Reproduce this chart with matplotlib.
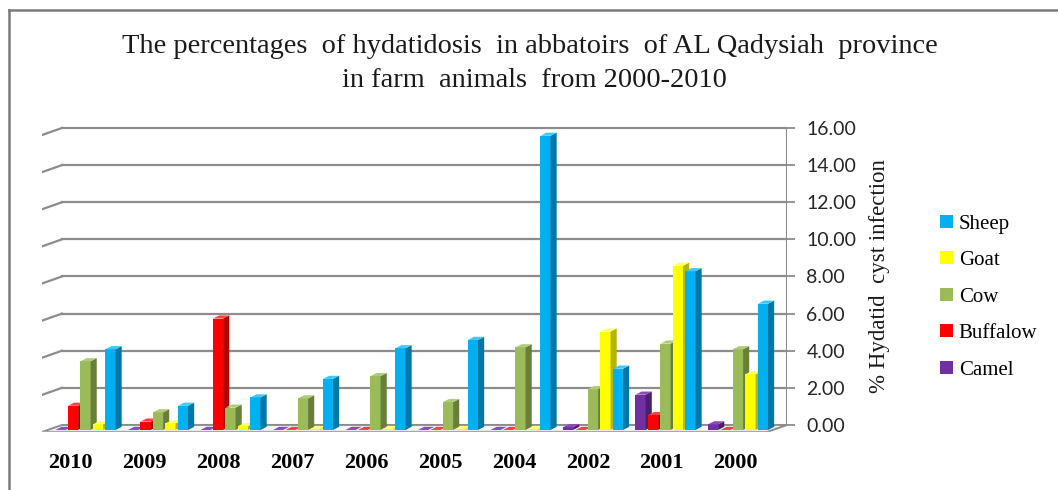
import matplotlib
matplotlib.use("Agg")
import matplotlib.pyplot as plt
from matplotlib.patches import Polygon, Patch
from matplotlib.lines import Line2D

years = ["2010", "2009", "2008", "2007", "2006", "2005", "2004", "2002", "2001", "2000"]
series_names = ["Camel", "Buffalow", "Cow", "Goat", "Sheep"]
camel = [0.0, 0.0, 0.0, 0.0, 0.0, 0.0, 0.0, 0.15, 1.9, 0.3]
buffalow = [1.3, 0.45, 6.0, 0.0, 0.0, 0.0, 0.0, 0.0, 0.8, 0.0]
cow = [3.7, 0.95, 1.2, 1.7, 2.9, 1.5, 4.45, 2.2, 4.65, 4.35]
goat = [0.3, 0.35, 0.2, 0.05, 0.05, 0.05, 0.05, 5.3, 8.85, 3.0]
sheep = [4.35, 1.3, 1.75, 2.75, 4.4, 4.85, 15.85, 3.3, 8.55, 6.8]
yticks = [0, 2, 4, 6, 8, 10, 12, 14, 16]

values = [camel, buffalow, cow, goat, sheep]
front_colors = ["#7030A0", "#FF0000", "#9BBB59", "#FFFF00", "#00B0F0"]
side_colors = ["#4A1F6C", "#B00000", "#687F3A", "#B5B500", "#0077A6"]
top_colors = ["#8A4CB8", "#FF4040", "#B0CC7A", "#FFFF70", "#40C8F8"]

SERIF = "Liberation Serif"

fig = plt.figure(figsize=(10.58, 4.9), dpi=100)
ax = fig.add_axes([42 / 1058, 1 - 432 / 490, (787 - 42) / 1058, (432 - 125) / 490])
DX, DY = 0.276, 0.38          # floor depth offsets (data units)
xl, xr = -0.5, len(years) - 0.5
ax.set_xlim(xl, xr + DX)
ax.set_ylim(-DY, 16.16)
for s in ax.spines.values():
    s.set_visible(False)

grid_c = "#8c8c8c"
# floor
floor = Polygon([(xl, -DY), (xr, -DY), (xr + DX, 0), (xl + DX, 0)], closed=True,
                facecolor="#f4f4f4", edgecolor=grid_c, lw=1.4, zorder=1)
ax.add_patch(floor)
ax.plot([xl, xr], [-DY, -DY], color="#a8a8a8", lw=2.4, zorder=1.5)
# back wall gridlines + side wall diagonals
for v in yticks:
    if v > 0:
        ax.plot([xl + DX, xr + DX], [v, v], color=grid_c, lw=1.6, zorder=1)
        ax.plot([xl, xl + DX], [v - DY, v], color=grid_c, lw=1.6, zorder=1)
# right axis line
ax.plot([xr + DX, xr + DX], [0, 16], color=grid_c, lw=1.5, zorder=1)

# bars (pseudo 3D)
w = 0.14
step = 0.172
ddx, ddy = 0.085, 0.17
base = -0.27
shift = 0.1
for i in range(len(years)):
    for j, vals in enumerate(values):
        v = vals[i]
        xc = i + shift + (j - 2) * step
        x0 = xc - w / 2
        z = 3 + i * 20 + j * 3
        bars = ax.bar([xc], [v], width=w, bottom=base, color=front_colors[j],
                      edgecolor="none", linewidth=0)
        bars[0].set_zorder(z)
        side = Polygon([(x0 + w, base), (x0 + w + ddx, base + ddy),
                        (x0 + w + ddx, base + v + ddy), (x0 + w, base + v)],
                       closed=True, facecolor=side_colors[j], edgecolor="none", zorder=z + 1)
        top = Polygon([(x0, base + v), (x0 + w, base + v), (x0 + w + ddx, base + v + ddy),
                       (x0 + ddx, base + v + ddy)],
                      closed=True, facecolor=top_colors[j], edgecolor="none", zorder=z + 2)
        ax.add_patch(side)
        ax.add_patch(top)

# y ticks on right
ax.yaxis.tick_right()
ax.set_yticks(yticks)
ax.set_yticklabels([f"{t:.2f}" for t in yticks], fontfamily="Lato", fontsize=14, color="#262626")
ax.tick_params(axis="y", length=6, width=1.3, color=grid_c, pad=8)

# x tick labels
ax.set_xticks([i * 1.02 - 0.11 for i in range(len(years))])
ax.set_xticklabels(years, fontfamily=SERIF, fontweight="bold", fontsize=16)
ax.tick_params(axis="x", length=0, pad=15)

# axis label
fig.text(880 / 1058, 1 - 276 / 490, "% Hydatid  cyst infection", rotation=90,
         ha="center", va="center", fontfamily=SERIF, fontsize=16.5, color="#1a1a1a")

# title
fig.text(530 / 1058, 1 - 53 / 490, "The percentages  of hydatidosis  in abbatoirs  of AL Qadysiah  province",
         ha="center", va="baseline", fontfamily=SERIF, fontsize=20.4, color="#1a1a1a")
fig.text(534 / 1058, 1 - 87 / 490, "in farm  animals  from 2000-2010",
         ha="center", va="baseline", fontfamily=SERIF, fontsize=20.4, color="#1a1a1a")

# legend
handles = [Patch(facecolor=front_colors[j], edgecolor="none", label=series_names[j]) for j in range(4, -1, -1)]
leg = fig.legend(handles=handles, loc="center left", bbox_to_anchor=(940 / 1058, 1 - 297 / 490),
                 frameon=False, handlelength=0.6, handleheight=0.6, handletextpad=0.3,
                 labelspacing=0.84, borderpad=0, borderaxespad=0,
                 prop={"family": SERIF, "size": 15})

# chart border (top and left)
fig.add_artist(Line2D([9 / 1058, 9 / 1058], [0, 1 - 10 / 490], color="#7a7a7a", lw=1.8))
fig.add_artist(Line2D([9 / 1058, 1], [1 - 10 / 490, 1 - 10 / 490], color="#7a7a7a", lw=1.8))

fig.savefig("out.png", dpi=100)
